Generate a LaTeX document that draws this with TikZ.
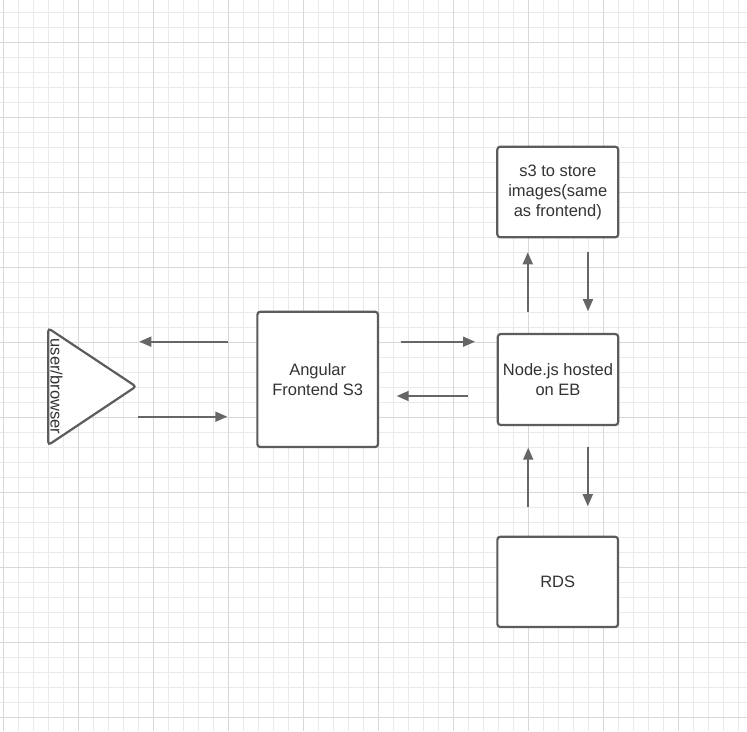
\documentclass[tikz,border=0pt]{standalone}
\usepackage{fontspec}
\setmainfont{Liberation Sans}
\usetikzlibrary{arrows.meta,calc}
\definecolor{gridminor}{HTML}{EAEAEA}
\definecolor{gridmajor}{HTML}{D8D8D8}
\definecolor{edge}{HTML}{5C5C5C}
\definecolor{arrowc}{HTML}{666666}
\definecolor{txt}{HTML}{333333}
\tikzset{
  box/.style={draw=edge, line width=2.2pt, rounded corners=3pt, fill=white,
    align=center, text=txt, font=\fontsize{16.5}{20}\selectfont, inner sep=0pt},
  arr/.style={draw=arrowc, line width=1.8pt, -{Triangle[length=12pt,width=10pt]}},
  lbl/.style={text=txt, font=\fontsize{16.5}{20}\selectfont, inner sep=0pt}
}
\begin{document}
\begin{tikzpicture}[x=1pt,y=-1pt]
\useasboundingbox (0,0) rectangle (747,731);
\fill[white] (0,0) rectangle (747,731);
% grid
\foreach \i in {0,...,50} {
  \pgfmathsetmacro\gx{3+15*\i}
  \draw[gridminor, line width=1pt] (\gx,0) -- (\gx,731);
}
\foreach \i in {-2,...,49} {
  \pgfmathsetmacro\gy{12+15*\i}
  \draw[gridminor, line width=1pt] (0,\gy) -- (747,\gy);
}
\foreach \i in {0,...,9} {
  \pgfmathsetmacro\gx{3+75*\i}
  \draw[gridmajor, line width=1pt] (\gx,0) -- (\gx,731);
}
\foreach \i in {0,...,9} {
  \pgfmathsetmacro\gy{42+75*\i}
  \draw[gridmajor, line width=1pt] (0,\gy) -- (747,\gy);
}
% user/browser triangle
\coordinate (tA) at (48.3,328.3);
\coordinate (tB) at (136,386.5);
\coordinate (tC) at (48.3,445);
\draw[edge, line width=2.2pt, rounded corners=3pt, fill=white] (tA) -- (tB) -- (tC) -- cycle;
\node[lbl, rotate=-90] (user) at (56.5,386.5) {user/browser};
% boxes
\node[box, minimum width=120.7pt, minimum height=135.3pt] (ang) at (317.7,379.4) {Angular\\Frontend S3};
\node[box, minimum width=120.5pt, minimum height=91pt] (njs) at (558,379.5) {Node.js hosted\\on EB};
\node[box, minimum width=121pt, minimum height=90.6pt] (s3) at (557.8,192) {s3 to store\\images(same\\as frontend)};
\node[box, minimum width=120.7pt, minimum height=90.3pt] (rds) at (557.7,581.9) {RDS};
% arrow end points
\coordinate (p1s) at (228.3,341.7); \coordinate (p1e) at (139.3,341.7);
\coordinate (p2s) at (138.3,416.7); \coordinate (p2e) at (227.3,416.7);
\coordinate (p3s) at (400.5,341.7); \coordinate (p3e) at (475,341.7);
\coordinate (p4s) at (467.7,396);   \coordinate (p4e) at (396.7,396);
\coordinate (p5s) at (527.8,311.7); \coordinate (p5e) at (527.8,252.3);
\coordinate (p6s) at (588,252.3);   \coordinate (p6e) at (588,311.2);
\coordinate (p7s) at (528.2,506.7); \coordinate (p7e) at (528.2,447.7);
\coordinate (p8s) at (587.8,446.7); \coordinate (p8e) at (587.8,506.2);
\draw[arr] (p1s) -- (p1e);
\draw[arr] (p2s) -- (p2e);
\draw[arr] (p3s) -- (p3e);
\draw[arr] (p4s) -- (p4e);
\draw[arr] (p5s) -- (p5e);
\draw[arr] (p6s) -- (p6e);
\draw[arr] (p7s) -- (p7e);
\draw[arr] (p8s) -- (p8e);
\end{tikzpicture}
\end{document}
